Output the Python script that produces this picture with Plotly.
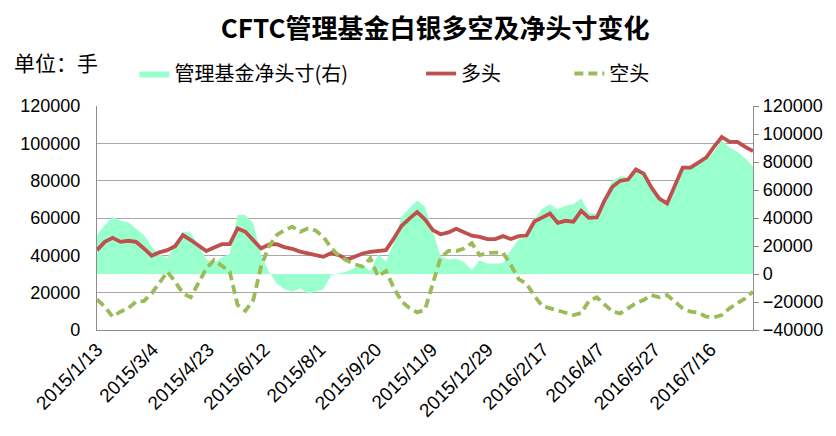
import pandas as pd
import plotly.graph_objects as go

start_date = "2015-01-13"
n_weeks = 85
dates = pd.date_range(start_date, periods=n_weeks, freq="7D")

long_pos = [42800, 47200, 49400, 47200, 47800, 47200, 43700, 39800, 41600, 42800,
            44900, 50800, 48200, 45100, 42300, 44200, 46000, 46000, 54400, 52600,
            48200, 43700, 45700, 46000, 44400, 43500, 42000, 40800, 40100, 39200,
            41200, 40100, 37700, 39200, 41000, 41900, 42600, 42800, 49000, 55800,
            59700, 63200, 59200, 53500, 51300, 52300, 54200, 52600, 50500, 49900,
            48700, 48700, 50300, 48700, 50300, 50600, 58100, 60200, 62400, 57400,
            58500, 58000, 63800, 60100, 60300, 69500, 76700, 79900, 80600, 86000,
            83800, 76300, 70400, 67800, 77600, 87000, 87000, 89500, 92400, 98100,
            103400, 100800, 100800, 98100, 95800]

short_pos = [16400, 12500, 7100, 9800, 11600, 15200, 15500, 19600, 25300, 31200,
             25900, 19600, 17500, 25000, 33000, 37500, 34400, 31200, 13400, 10300,
             16000, 33900, 44600, 50800, 53500, 55300, 52600, 54400, 53300, 49900,
             43900, 39500, 37200, 35200, 34000, 38400, 28700, 31600, 22700, 15300,
             11800, 9400, 10900, 24500, 38800, 42400, 42300, 43700, 46500, 40100,
             41300, 41500, 41300, 34800, 27200, 24800, 18300, 12900, 11600, 10500,
             9200, 8000, 9100, 15600, 17500, 13400, 9800, 8900, 11600, 14300,
             16100, 18700, 17500, 18700, 15200, 11600, 9800, 9300, 7100, 6800,
             8000, 11600, 14300, 16900, 20500]

net_pos = [27800, 35000, 40900, 38000, 36900, 32600, 27800, 19500, 14300, 11200,
           21900, 30200, 29500, 20700, 10500, 7600, 11900, 14300, 42100, 42100,
           36200, 14000, 1700, -6700, -10900, -12600, -10200, -14300, -12600, -10900,
           -700, 500, 1700, 4500, 7000, 2000, 14000, 9000, 21900, 41000,
           47000, 52500, 48000, 30000, 12800, 10400, 10900, 8500, 2600, 9800,
           7300, 7500, 7600, 17000, 25000, 26000, 39000, 46500, 49900, 46100,
           48700, 49900, 54000, 43700, 42800, 55600, 66600, 69900, 69000, 74200,
           71800, 61800, 53300, 49900, 63500, 76100, 76100, 78500, 81300, 87300,
           95600, 90400, 87300, 82500, 76600]

tick_dates = ["2015-01-13", "2015-03-04", "2015-04-23", "2015-06-12", "2015-08-01",
              "2015-09-20", "2015-11-09", "2015-12-29", "2016-02-17", "2016-04-07",
              "2016-05-27", "2016-07-16"]
tick_labels = ["2015/1/13", "2015/3/4", "2015/4/23", "2015/6/12", "2015/8/1",
               "2015/9/20", "2015/11/9", "2015/12/29", "2016/2/17", "2016/4/7",
               "2016/5/27", "2016/7/16"]

title_text = "CFTC管理基金白银多空及净头寸变化"
unit_text = "单位：手"
names = ["管理基金净头寸(右)", "多头", "空头"]

FONT = "Liberation Sans, Noto Sans CJK SC, sans-serif"
CJK = "Noto Sans CJK SC, sans-serif"
AXIS_GRAY = "#8C8C8C"
GRID_GRAY = "#A8A8A8"

fig = go.Figure()

fig.add_trace(go.Scatter(
    x=dates, y=net_pos, name=names[0], mode="lines",
    fill="tozeroy", fillcolor="#99FFCC", line=dict(width=0, color="#99FFCC"),
    yaxis="y", legend="legend",
))
fig.add_trace(go.Scatter(
    x=dates, y=long_pos, name=names[1], mode="lines",
    line=dict(color="#C0504D", width=3.8),
    yaxis="y2", legend="legend2",
))
fig.add_trace(go.Scatter(
    x=dates, y=short_pos, name=names[2], mode="lines",
    line=dict(color="#9BBB59", width=3.8, dash="9px,5px"),
    yaxis="y2", legend="legend3",
))

legend_common = dict(orientation="h", yanchor="middle", y=1.145, xanchor="left",
                     bgcolor="rgba(0,0,0,0)", font=dict(family=CJK, size=20, color="#000"))

fig.update_layout(
    width=836, height=436,
    margin=dict(l=84, r=91, t=98, b=114),
    paper_bgcolor="white", plot_bgcolor="white",
    font=dict(family=FONT, size=18, color="#000"),
    title=dict(text="<b>" + title_text + "</b>", x=0.511, xanchor="center", y=0.952, yanchor="middle",
               font=dict(family=CJK, size=26, color="#000")),
    showlegend=True,
    legend=dict(x=0.057, **legend_common),
    legend2=dict(x=0.494, **legend_common),
    legend3=dict(x=0.72, **legend_common),
    xaxis=dict(
        type="date",
        range=[dates[0], dates[-1]],
        tickvals=tick_dates, ticktext=tick_labels, tickangle=-45,
        showline=True, linecolor=AXIS_GRAY, linewidth=1.2,
        showgrid=False, zeroline=False, ticks="",
        tickfont=dict(family=FONT, size=19, color="#000"),
    ),
    yaxis=dict(
        side="right", range=[-40000, 120000], dtick=20000, tickformat="d",
        showgrid=False, zeroline=False,
        showline=True, linecolor=AXIS_GRAY, linewidth=1.2,
        ticks="outside", ticklen=5, tickcolor=AXIS_GRAY,
        tickfont=dict(family=FONT, size=18, color="#000"),
    ),
    yaxis2=dict(
        side="left", overlaying="y", range=[0, 120000], dtick=20000, tickformat="d",
        showgrid=True, gridcolor=GRID_GRAY, gridwidth=1.2, zeroline=False,
        showline=True, linecolor=AXIS_GRAY, linewidth=1.2,
        ticks="", ticklabelstandoff=12,
        tickfont=dict(family=FONT, size=18, color="#000"),
    ),
    annotations=[dict(text=unit_text, xref="paper", yref="paper", x=-0.129, y=1.195,
                      xanchor="left", yanchor="middle", showarrow=False,
                      font=dict(family=CJK, size=21, color="#000"))],
)

fig.write_html("out.html")
